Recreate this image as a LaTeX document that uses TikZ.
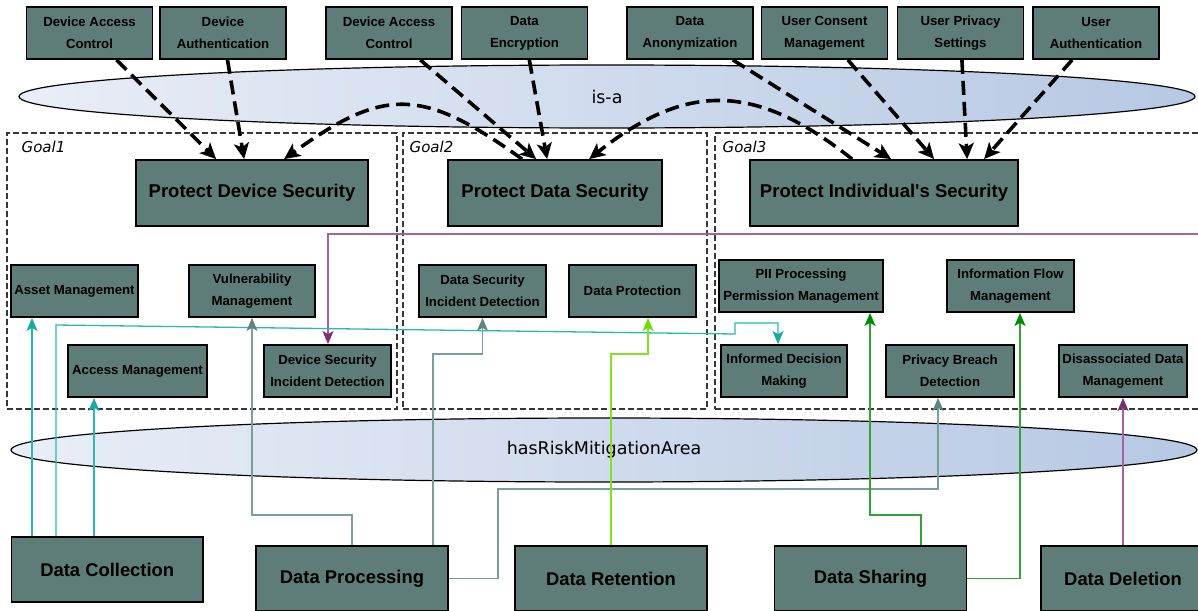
\documentclass[tikz,border=0pt]{standalone}
\usepackage{fontspec}
\setmainfont{Liberation Sans}
\newfontfamily\labelfont{DejaVu Sans}
\usetikzlibrary{arrows.meta,calc,shapes.geometric}

\definecolor{boxfill}{RGB}{94,124,120}
\definecolor{framegray}{RGB}{55,55,55}
\definecolor{ellleft}{RGB}{233,238,247}
\definecolor{ellright}{RGB}{182,200,227}
\definecolor{tealline}{RGB}{40,186,176}
\definecolor{tealtip}{RGB}{26,170,160}
\definecolor{slateline}{RGB}{122,158,155}
\definecolor{slatetip}{RGB}{95,133,130}
\definecolor{limeline}{RGB}{128,226,32}
\definecolor{limetip}{RGB}{112,220,10}
\definecolor{greenline}{RGB}{50,164,50}
\definecolor{greentip}{RGB}{0,140,0}
\definecolor{plumline}{RGB}{162,98,160}
\definecolor{plumtip}{RGB}{122,50,112}

\begin{document}
\begin{tikzpicture}[x=1pt,y=-1pt,
  box/.style={draw=black, line width=1.8pt, fill=boxfill, inner sep=0pt, align=center, text=black},
  small/.style={box, minimum height=52pt, font=\fontsize{13.2}{22}\selectfont\bfseries},
  goal/.style={box, minimum height=66pt, font=\fontsize{18.5}{22}\selectfont\bfseries},
  phase/.style={box, minimum width=192pt, minimum height=65pt, font=\fontsize{18.4}{22}\selectfont\bfseries},
  frame/.style={draw=framegray, line width=1.1pt, dash pattern=on 6pt off 3pt, inner sep=0pt},
  glabel/.style={font=\labelfont\itshape\fontsize{15}{18}\selectfont, anchor=west, inner sep=0pt},
  band/.style={ellipse, draw=black, line width=1.2pt, left color=ellleft, right color=ellright, inner sep=0pt, font=\labelfont\fontsize{17.5}{20}\selectfont},
  isa/.style={line width=3.6pt, dash pattern=on 14pt off 7pt, -{Stealth[length=16pt,width=15pt,inset=4pt]}},
  ctip/.style={-{Stealth[length=13pt,width=11pt,inset=3pt,color=#1]}},
  flow/.style={line width=1.3pt},
  tflow/.style={flow, draw=tealline, ctip=tealtip},
  sflow/.style={flow, draw=slateline, ctip=slatetip},
  lflow/.style={flow, draw=limeline, ctip=limetip},
  gflow/.style={flow, draw=greenline, ctip=greentip},
  pflow/.style={flow, draw=plumline, ctip=plumtip}
]
\useasboundingbox (0,0) rectangle (1198,610);
\clip (0,0) rectangle (1198,610);

% relation bands
\node[band, minimum width=1176pt, minimum height=63pt] (isaband) at (607,96.5) {is-a};
\node[band, minimum width=1186pt, minimum height=64pt] (riskband) at (604,450) {hasRiskMitigationArea};

% goal containers
\node[frame, minimum width=390pt, minimum height=276pt] (goal1) at (202,271) {};
\node[frame, minimum width=304pt, minimum height=276pt] (goal2) at (555,271) {};
\node[frame, minimum width=495pt, minimum height=276pt] (goal3) at (962.5,271) {};
\node[glabel] (g1lbl) at ($(goal1.north west)+(15,14)$) {Goal1};
\node[glabel] (g2lbl) at ($(goal2.north west)+(7,14)$) {Goal2};
\node[glabel] (g3lbl) at ($(goal3.north west)+(8,14)$) {Goal3};

% security controls
\node[small, minimum width=126pt] (tb1) at (89.5,33) {Device Access\\Control};
\node[small, minimum width=126pt] (tb2) at (223,33) {Device\\Authentication};
\node[small, minimum width=126pt] (tb3) at (389,33) {Device Access\\Control};
\node[small, minimum width=126pt] (tb4) at (524.5,33) {Data\\Encryption};
\node[small, minimum width=126pt] (tb5) at (690,33) {Data\\Anonymization};
\node[small, minimum width=126pt] (tb6) at (824.5,33) {User Consent\\Management};
\node[small, minimum width=126pt] (tb7) at (960.5,33) {User Privacy\\Settings};
\node[small, minimum width=126pt] (tb8) at (1096,33) {User\\Authentication};

% goals
\node[goal, minimum width=232pt] (devsec) at (252,193) {Protect Device Security};
\node[goal, minimum width=214pt] (datasec) at (555,193) {Protect Data Security};
\node[goal, minimum width=268pt] (indsec) at (884,193) {Protect Individual\textquotesingle s Security};

% risk mitigation areas
\node[small, minimum width=127pt] (am) at (74.5,291) {Asset Management};
\node[small, minimum width=126pt] (vm) at (252,291) {Vulnerability\\Management};
\node[small, minimum width=139pt] (acm) at (137.5,371) {Access Management};
\node[small, minimum width=127pt] (dsid) at (327.5,371) {Device Security\\Incident Detection};
\node[small, minimum width=127pt] (dsec) at (482.5,291) {Data Security\\Incident Detection};
\node[small, minimum width=127pt] (dprot) at (632.5,291) {Data Protection};
\node[small, minimum width=164pt] (pii) at (801,286) {PII Processing\\Permission Management};
\node[small, minimum width=127pt] (ifm) at (1010.5,286) {Information Flow\\Management};
\node[small, minimum width=126pt] (idm) at (784,371) {Informed Decision\\Making};
\node[small, minimum width=128pt] (pbd) at (950,371) {Privacy Breach\\Detection};
\node[small, minimum width=128pt] (ddm) at (1123,371) {Disassociated Data\\Management};

% data life-cycle phases
\node[phase, minimum width=191.5pt] (dcol) at (107.25,569.5) {Data Collection};
\node[phase] (dproc) at (352,578.5) {Data Processing};
\node[phase] (dret) at (611,578.5) {Data Retention};
\node[phase] (dshare) at (870.5,578.5) {Data Sharing};
\node[phase, minimum width=164pt] (ddel) at (1123,578.5) {Data Deletion};

% is-a relations
\draw[isa] (tb1) -- ($(devsec.north west)+(81,0)$);
\draw[isa] (tb2) -- ($(devsec.north west)+(109,0)$);
\draw[isa] ($(datasec.north west)+(75,0)$) .. controls +(-100,-72) and +(100,-72) .. ($(devsec.north west)+(149,0)$);
\draw[isa] (tb3) -- ($(datasec.north west)+(89,0)$);
\draw[isa] (tb4) -- ($(datasec.north west)+(100,0)$);
\draw[isa] ($(indsec.north west)+(103,0)$) .. controls +(-97,-77) and +(97,-77) .. ($(datasec.north west)+(142,0)$);
\draw[isa] (tb5) -- ($(indsec.north west)+(142,0)$);
\draw[isa] (tb6) -- ($(indsec.north west)+(185,0)$);
\draw[isa] (tb7) -- ($(indsec.north west)+(218,0)$);
\draw[isa] (tb8) -- ($(indsec.north west)+(235,0)$);

% hasRiskMitigationArea relations
\coordinate (offright) at (1205,234);
\draw[pflow] (offright) -| (328,0 |- dsid.north);
\draw[pflow] (ddel.north) -- (ddm.south);

\draw[tflow] (32,0 |- dcol.north) -- (32,0 |- am.south);
\draw[tflow] (94,0 |- dcol.north) -- (94,0 |- acm.south);
\draw[tflow] (56,0 |- dcol.north) -- (56,325) -- (735,334) -- (735,323) -- (778,323) -- (778,0 |- idm.north);

\draw[sflow] (dproc.north) -- ++(0,-30) -| (vm.south);
\draw[sflow] (433,0 |- dproc.north) -- (433,354) -| (dsec.south);
\draw[sflow] (dproc.east) -| (498,489) -| (938,0 |- pbd.south);

\draw[lflow] (dret.north) -- (611,354) -| (648,0 |- dprot.south);

\draw[gflow] (921,0 |- dshare.north) -- (921,515) -| (870,0 |- pii.south);
\draw[gflow] (dshare.east) -| (1020,0 |- ifm.south);
\end{tikzpicture}
\end{document}
